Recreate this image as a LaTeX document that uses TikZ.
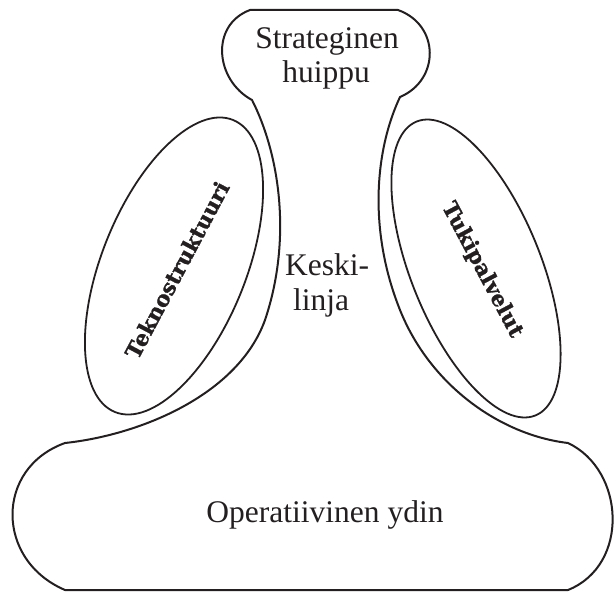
\documentclass[tikz,border=0pt]{standalone}
\usepackage{fontspec}
\setmainfont{Liberation Serif}
\newfontfamily\slabfont{DejaVu Serif}[BoldFeatures={FakeBold=1.2}]
\usetikzlibrary{shapes.geometric}
\definecolor{ink}{RGB}{35,31,32}

\begin{document}
\begin{tikzpicture}[x=1bp, y=-1bp, line join=round,
  shapeline/.style={draw=ink, line width=2bp},
  partellipse/.style={draw=ink, line width=1.8bp, ellipse, inner sep=0pt},
  bodytext/.style={text=ink, font=\fontsize{31.5bp}{35bp}\selectfont, inner sep=0pt},
  slabtext/.style={text=ink, font=\slabfont\bfseries\fontsize{21.5bp}{21.5bp}\selectfont, inner sep=0pt}]
\useasboundingbox (0,0) rectangle (615,592);

% Organisation outline: apex on top, middle line as the neck, operating core as the base
\draw[shapeline] (250,10) -- (398,10)
  .. controls (440,25) and (440,80) .. (400,97)
  .. controls (375,150) and (368,230) .. (400,310)
  .. controls (430,385) and (500,435) .. (568,443)
  .. controls (625,470) and (630,565) .. (568,590)
  -- (65,590)
  .. controls (-5,560) and (-5,468) .. (65,443)
  .. controls (140,435) and (238,395) .. (265,320)
  .. controls (292,240) and (280,155) .. (252,100)
  .. controls (215,80) and (210,25) .. (250,10) -- cycle;

% Staff units on both sides
\node[partellipse, minimum width=315bp, minimum height=144bp, rotate=68] (tekno) at (174,266) {};
\node[partellipse, minimum width=317bp, minimum height=130bp, rotate=-68] (tuki) at (476,268.5) {};

\node[slabtext, rotate=62] (teknotext) at (177,270) {Teknostruktuuri};
\node[slabtext, rotate=-62] (tukitext) at (482,270) {Tukipalvelut};

% Labels of the line parts
\node[bodytext, anchor=base] (apex1) at (327,49) {Strateginen};
\node[bodytext, anchor=base] (apex2) at (326,83) {huippu};
\node[bodytext, anchor=base west] (mid1) at (285,275) {Keski-};
\node[bodytext, anchor=base west] (mid2) at (293,310) {linja};
\node[bodytext, anchor=base] (core) at (325,522) {Operatiivinen ydin};
\end{tikzpicture}
\end{document}
